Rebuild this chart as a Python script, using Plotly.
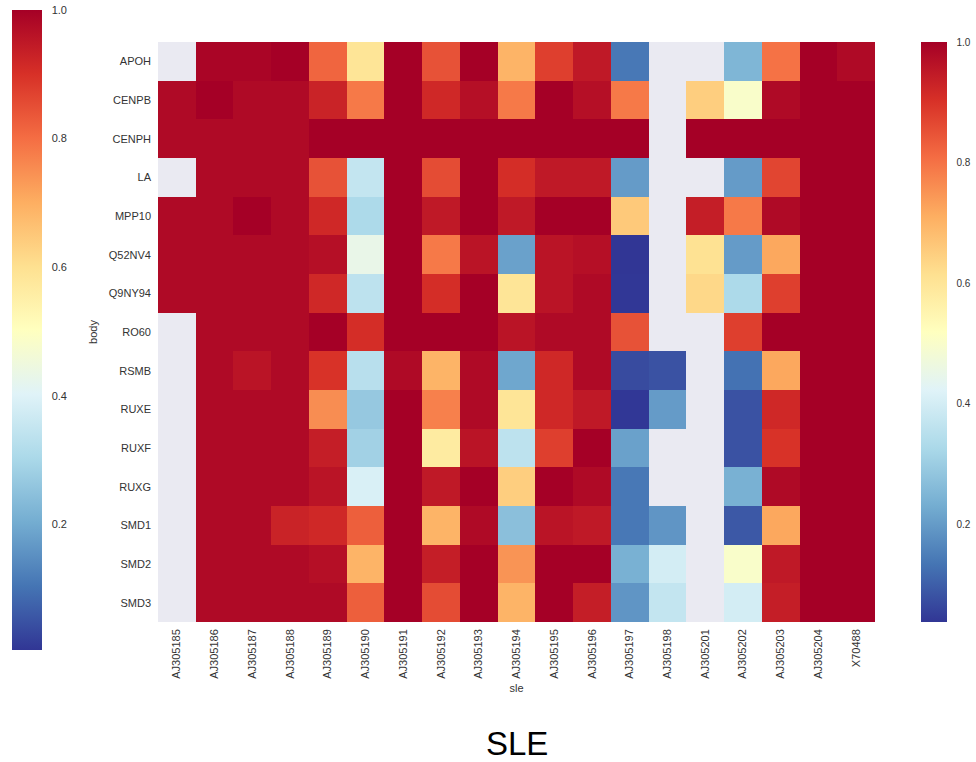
import plotly.graph_objects as go

sle = ["AJ305185", "AJ305186", "AJ305187", "AJ305188", "AJ305189", "AJ305190",
       "AJ305191", "AJ305192", "AJ305193", "AJ305194", "AJ305195", "AJ305196",
       "AJ305197", "AJ305198", "AJ305201", "AJ305202", "AJ305203", "AJ305204", "X70488"]
body = ["APOH", "CENPB", "CENPH", "LA", "MPP10", "Q52NV4", "Q9NY94", "RO60",
        "RSMB", "RUXE", "RUXF", "RUXG", "SMD1", "SMD2", "SMD3"]

N = None
APOH   = [N, 0.99, 0.99, 1.0, 0.82, 0.60, 1.0, 0.85, 1.0, 0.70, 0.88, 0.95, 0.14, N, N, 0.25, 0.80, 1.0, 0.98]
CENPB  = [0.98, 1.0, 0.98, 0.98, 0.93, 0.79, 1.0, 0.92, 0.97, 0.79, 1.0, 0.97, 0.79, N, 0.65, 0.50, 0.98, 1.0, 1.0]
CENPH  = [0.98, 0.98, 0.98, 0.98, 1.0, 1.0, 1.0, 1.0, 1.0, 1.0, 1.0, 1.0, 1.0, N, 1.0, 1.0, 1.0, 1.0, 1.0]
LA     = [N, 0.98, 0.98, 0.98, 0.85, 0.37, 1.0, 0.86, 1.0, 0.91, 0.95, 0.95, 0.20, N, N, 0.20, 0.87, 1.0, 1.0]
MPP10  = [0.98, 0.98, 1.0, 0.98, 0.92, 0.33, 1.0, 0.95, 1.0, 0.95, 1.0, 1.0, 0.66, N, 0.94, 0.79, 0.98, 1.0, 1.0]
Q52NV4 = [0.98, 0.98, 0.98, 0.98, 0.97, 0.45, 1.0, 0.79, 0.96, 0.21, 0.96, 0.97, 0.038, N, 0.61, 0.20, 0.72, 1.0, 1.0]
Q9NY94 = [0.98, 0.98, 0.98, 0.98, 0.92, 0.36, 1.0, 0.91, 1.0, 0.60, 0.96, 0.98, 0.04, N, 0.63, 0.33, 0.88, 1.0, 1.0]
RO60   = [N, 0.98, 0.98, 0.98, 1.0, 0.91, 1.0, 1.0, 1.0, 0.96, 0.98, 0.98, 0.85, N, N, 0.88, 1.0, 1.0, 1.0]
RSMB   = [N, 0.98, 0.96, 0.98, 0.90, 0.35, 0.98, 0.70, 0.98, 0.22, 0.92, 0.98, 0.07, 0.08, N, 0.13, 0.72, 1.0, 1.0]
RUXE   = [N, 0.98, 0.98, 0.98, 0.76, 0.29, 1.0, 0.78, 0.98, 0.60, 0.92, 0.95, 0.04, 0.20, N, 0.08, 0.92, 1.0, 1.0]
RUXF   = [N, 0.98, 0.98, 0.98, 0.94, 0.31, 1.0, 0.58, 0.96, 0.36, 0.88, 1.0, 0.21, N, N, 0.08, 0.90, 1.0, 1.0]
RUXG   = [N, 0.98, 0.98, 0.98, 0.96, 0.41, 1.0, 0.95, 1.0, 0.65, 1.0, 0.98, 0.14, N, N, 0.24, 0.98, 1.0, 1.0]
SMD1   = [N, 0.98, 0.98, 0.93, 0.92, 0.83, 1.0, 0.70, 0.98, 0.27, 0.96, 0.95, 0.14, 0.19, N, 0.09, 0.72, 1.0, 1.0]
SMD2   = [N, 0.98, 0.98, 0.98, 0.97, 0.70, 1.0, 0.94, 1.0, 0.75, 1.0, 1.0, 0.24, 0.40, N, 0.50, 0.95, 1.0, 1.0]
SMD3   = [N, 0.98, 0.98, 0.98, 0.98, 0.83, 1.0, 0.86, 1.0, 0.70, 1.0, 0.94, 0.19, 0.37, N, 0.40, 0.94, 1.0, 1.0]

z = [APOH, CENPB, CENPH, LA, MPP10, Q52NV4, Q9NY94, RO60, RSMB, RUXE, RUXF, RUXG, SMD1, SMD2, SMD3]

cb_ticks = [0.2, 0.4, 0.6, 0.8, 1.0]
cb_labels = ["0.2", "0.4", "0.6", "0.8", "1.0"]
left_range = [0.005, 1.0]

W, H = 976, 762
font = "Liberation Sans, Arial, sans-serif"
tick_font = dict(family=font, size=11, color="#333333")

fig = go.Figure()
fig.add_trace(go.Heatmap(
    z=z, x=sle, y=body, colorscale="RdYlBu_r", zmin=0.038, zmax=1.0,
    xgap=0, ygap=0, hoverongaps=False,
    colorbar=dict(
        x=921 / W, xanchor="left", y=1 - 332 / H, yanchor="middle",
        thickness=26, thicknessmode="pixels", len=580, lenmode="pixels",
        outlinewidth=0, tickvals=cb_ticks, ticktext=cb_labels,
        ticks="outside", ticklen=8, tickcolor="rgba(0,0,0,0)",
        tickfont=dict(family=font, size=10, color="#333333"), ypad=0, xpad=0,
    ),
))
fig.add_trace(go.Scatter(
    x=[None, None], y=[None, None], mode="markers",
    hoverinfo="skip", showlegend=False,
    marker=dict(color=left_range, colorscale="RdYlBu_r", cmin=left_range[0], cmax=left_range[1],
                showscale=True,
                colorbar=dict(
                    x=12 / W, xanchor="left", y=1 - 330 / H, yanchor="middle",
                    thickness=30, thicknessmode="pixels", len=640, lenmode="pixels",
                    outlinewidth=0, tickvals=cb_ticks, ticktext=cb_labels,
                    ticks="outside", ticklen=8, tickcolor="rgba(0,0,0,0)",
                    tickfont=dict(family=font, size=11, color="#333333"), ypad=0, xpad=0,
                )),
))

fig.update_layout(
    width=W, height=H,
    margin=dict(l=0, r=0, t=0, b=0),
    paper_bgcolor="white",
    plot_bgcolor="#EAEAF2",
    xaxis=dict(domain=[158 / W, 875 / W], tickangle=-90, tickfont=tick_font,
               showgrid=False, zeroline=False, ticks="", showline=False,
               ticklabelstandoff=4,
               title=dict(text="sle", font=dict(family=font, size=11, color="#333333"), standoff=6)),
    yaxis=dict(domain=[1 - 622 / H, 1 - 42 / H], autorange="reversed", tickfont=tick_font,
               showgrid=False, zeroline=False, ticks="", showline=False,
               ticklabelstandoff=6,
               title=dict(text="body", font=dict(family=font, size=11, color="#333333"), standoff=8)),
    annotations=[dict(text="SLE", x=517 / W, y=1 - 743 / H, xref="paper", yref="paper",
                      showarrow=False, font=dict(family=font, size=33, color="black"),
                      xanchor="center", yanchor="middle")],
)

fig.write_html("out.html")
